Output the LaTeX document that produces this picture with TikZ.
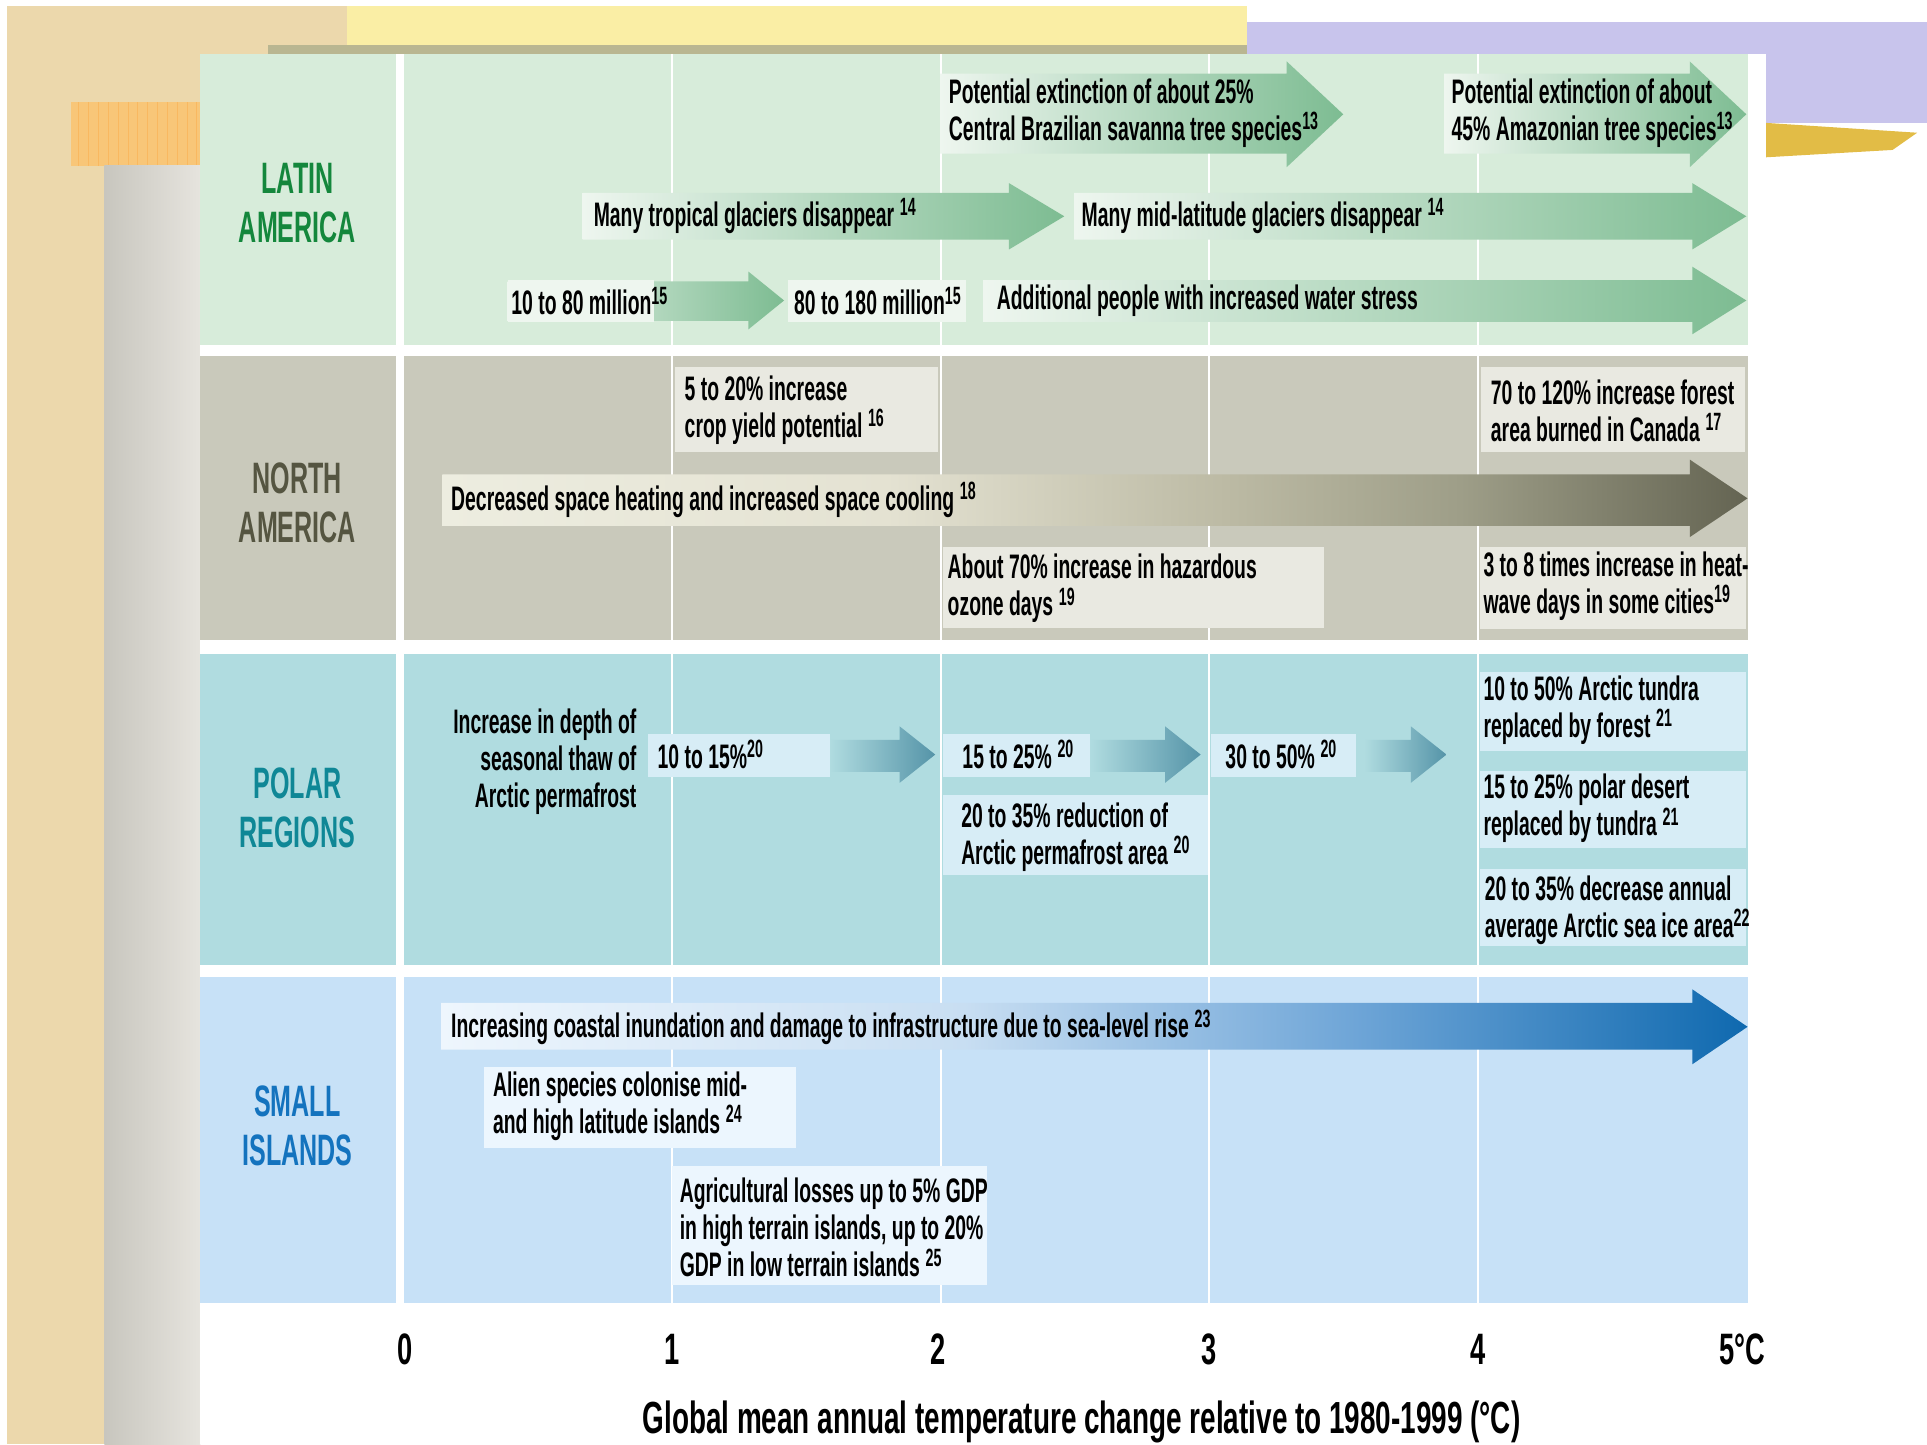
\documentclass[tikz,border=0pt]{standalone}
\usepackage{fontspec}
\setmainfont{Liberation Sans}[FakeStretch=0.57]
\newfontfamily\ttlfont{Liberation Sans}[FakeStretch=0.62]
\definecolor{labg}{RGB}{215,236,218}
\definecolor{nabg}{RGB}{201,201,187}
\definecolor{pobg}{RGB}{176,220,224}
\definecolor{sibg}{RGB}{199,225,247}
\definecolor{latxt}{RGB}{20,135,60}
\definecolor{natxt}{RGB}{85,85,65}
\definecolor{potxt}{RGB}{15,135,150}
\definecolor{sitxt}{RGB}{20,115,190}
\definecolor{lagr}{RGB}{125,188,146}
\definecolor{lalt}{RGB}{238,246,239}
\definecolor{nabox}{RGB}{233,233,225}
\definecolor{pobox}{RGB}{215,237,246}
\definecolor{poar}{RGB}{85,148,168}
\definecolor{sibox}{RGB}{236,246,254}
\definecolor{beige}{RGB}{236,216,172}
\definecolor{orgrid}{RGB}{248,198,120}
\definecolor{yelband}{RGB}{250,238,165}
\definecolor{lav}{RGB}{200,196,236}
\definecolor{gold}{RGB}{226,188,70}
\definecolor{strip}{RGB}{185,182,145}
\definecolor{naA}{RGB}{237,237,224}
\definecolor{naB}{RGB}{228,226,210}
\definecolor{naC}{RGB}{188,186,164}
\definecolor{naD}{RGB}{158,158,136}
\definecolor{naE}{RGB}{100,100,82}
\definecolor{siA}{RGB}{238,246,253}
\definecolor{siB}{RGB}{200,222,242}
\definecolor{siC}{RGB}{110,165,215}
\definecolor{siD}{RGB}{15,105,175}
\pgfdeclarehorizontalshading{nagrad}{100bp}{color(0bp)=(naA); color(25bp)=(naA); color(42bp)=(naB); color(55bp)=(naC); color(64bp)=(naD); color(75bp)=(naE); color(100bp)=(naE)}
\pgfdeclarehorizontalshading{sigrad}{100bp}{color(0bp)=(siA); color(25bp)=(siA); color(45bp)=(siB); color(60bp)=(siC); color(75bp)=(siD); color(100bp)=(siD)}
\newcommand\bodyfont{\fontsize{34}{37}\selectfont\bfseries}
\newcommand\labfont{\fontsize{44}{49}\selectfont\bfseries}
\newcommand\spr[1]{\raisebox{0.32em}{\fontsize{25}{25}\selectfont #1}}
% arrow: x0, xbase, xtip, ytop, ybot, headtop, headbot, options
\newcommand\arr[8]{\shade[#8] (#1,#4) -- (#2,#4) -- (#2,#6) -- (#3,{(#6+#7)/2}) -- (#2,#7) -- (#2,#5) -- (#1,#5) -- cycle;}
\tikzset{
  txt/.style={font=\bodyfont, inner sep=0pt, align=left, anchor=west, text=black},
  rtxt/.style={font=\bodyfont, inner sep=0pt, align=right, anchor=east, text=black},
  lab/.style={font=\labfont, inner sep=0pt, align=center},
  axl/.style={font=\fontsize{44}{44}\selectfont\bfseries\ttlfont, inner sep=0pt},
}
\begin{document}
\begin{tikzpicture}[x=1.229pt,y=-1.229pt]
\useasboundingbox (0,0) rectangle (1568,1175);
% background decoration
\fill[beige] (6,5) rectangle (85,1175);
\fill[beige] (6,5) rectangle (282,44);
\fill[beige] (6,5) rectangle (163,135);
\fill[yelband] (282,5) rectangle (1015,37);
\fill[strip] (218,37) rectangle (1015,44);
\fill[lav] (1015,18) rectangle (1568,44);
\fill[lav] (1437,18) rectangle (1568,100);
\fill[gold] (1437,100) -- (1560,108) -- (1540,122) -- (1437,128) -- cycle;
\fill[orgrid] (58,83) rectangle (163,135);
\draw[orgrid!80!orange, line width=0.6pt, step=8] (58,83) grid (163,135);
\shade[left color={rgb,255:red,200;green,198;blue,190}, right color={rgb,255:red,230;green,228;blue,222}] (85,135) rectangle (163,1175);
% panel
\fill[white] (163,44) rectangle (1437,1175);
% rows
\fill[labg] (163,44) rectangle (322,281);
\fill[labg] (329,44) rectangle (1422,281);
\fill[nabg] (163,290) rectangle (322,521);
\fill[nabg] (329,290) rectangle (1422,521);
\fill[pobg] (163,532) rectangle (322,785);
\fill[pobg] (329,532) rectangle (1422,785);
\fill[sibg] (163,795) rectangle (322,1060);
\fill[sibg] (329,795) rectangle (1422,1060);
% grid lines
\foreach \gx in {547,766,984,1203} \draw[white, line width=2pt] (\gx,44) -- (\gx,1060);
% Latin America arrows
\arr{765}{1047}{1093}{60}{125}{50}{136}{left color=lalt, right color=lagr}
\arr{1175}{1375}{1421}{60}{125}{50}{136}{left color=lalt, right color=lagr}
\arr{474}{821}{866}{157}{195}{149}{203}{left color=lalt, right color=lagr}
\arr{874}{1377}{1421}{157}{195}{149}{203}{left color=lalt, right color=lagr}
\arr{413}{609}{638}{229}{261}{221}{268}{left color=lalt, right color=lagr}
\arr{800}{1377}{1421}{228}{262}{217}{272}{left color=lalt, right color=lagr}
\fill[lalt] (413,228) rectangle (532,262);
\fill[lalt] (641,228) rectangle (786,262);
% North America
\arr{360}{1375}{1422}{386}{428}{374}{437}{shading=nagrad}
\fill[nabox] (549,299) rectangle (763,368);
\fill[nabox] (1205,299) rectangle (1420,368);
\fill[nabox] (767,445) rectangle (1077,511);
\fill[nabox] (1204,445) rectangle (1421,512);
% Polar
\arr{675}{732}{761}{602}{628}{591}{637}{left color=pobg, right color=poar}
\arr{887}{948}{977}{602}{628}{591}{637}{left color=pobg, right color=poar}
\arr{1110}{1148}{1177}{602}{628}{591}{637}{left color=pobg, right color=poar}
\fill[pobox] (527,597) rectangle (675,632);
\fill[pobox] (767,597) rectangle (887,632);
\fill[pobox] (985,597) rectangle (1103,632);
\fill[pobox] (767,647) rectangle (983,712);
\fill[pobox] (1204,547) rectangle (1421,611);
\fill[pobox] (1204,627) rectangle (1421,690);
\fill[pobox] (1204,707) rectangle (1421,770);
% Small islands
\arr{359}{1377}{1422}{816}{854}{805}{866}{shading=sigrad}
\fill[sibox] (394,868) rectangle (648,934);
\fill[sibox] (547,949) rectangle (803,1046);
% row labels
\node[lab, text=latxt] (lLA) at (242,165) {LATIN\\AMERICA};
\node[lab, text=natxt] (lNA) at (242,409) {NORTH\\AMERICA};
\node[lab, text=potxt] (lPO) at (242,657) {POLAR\\REGIONS};
\node[lab, text=sitxt] (lSI) at (242,916) {SMALL\\ISLANDS};
% Latin America texts
\node[txt] (t1) at (772,92) {Potential extinction of about 25\%\\Central Brazilian savanna tree species\spr{13}};
\node[txt] (t2) at (1181,92) {Potential extinction of about\\45\% Amazonian tree species\spr{13}};
\node[txt] (t3) at (483,176) {Many tropical glaciers disappear\,\spr{14}};
\node[txt] (t4) at (880,176) {Many mid-latitude glaciers disappear\,\spr{14}};
\node[txt] (t5) at (416,245) {10 to 80 million\spr{15}};
\node[txt] (t6) at (646,245) {80 to 180 million\spr{15}};
\node[txt] (t7) at (811,245) {Additional people with increased water stress};
% North America texts
\node[txt] (n1) at (557,334) {5 to 20\% increase\\crop yield potential\,\spr{16}};
\node[txt] (n2) at (1213,334) {70 to 120\% increase forest\\area burned in Canada\,\spr{17}};
\node[txt] (n3) at (367,407) {Decreased space heating and increased space cooling\,\spr{18}};
\node[txt] (n4) at (771,479) {About 70\% increase in hazardous\\ozone days\,\spr{19}};
\node[txt] (n5) at (1207,477) {3 to 8 times increase in heat-\\wave days in some cities\spr{19}};
% Polar texts
\node[rtxt] (p0) at (518,620) {Increase in depth of\\seasonal thaw of\\Arctic permafrost};
\node[txt] (p1) at (535,614) {10 to 15\%\spr{20}};
\node[txt] (p2) at (783,614) {15 to 25\%\,\spr{20}};
\node[txt] (p3) at (997,614) {30 to 50\%\,\spr{20}};
\node[txt] (p4) at (782,681) {20 to 35\% reduction of\\Arctic permafrost area\,\spr{20}};
\node[txt] (p5) at (1207,578) {10 to 50\% Arctic tundra\\replaced by forest\,\spr{21}};
\node[txt] (p6) at (1207,658) {15 to 25\% polar desert\\replaced by tundra\,\spr{21}};
\node[txt] (p7) at (1208,741) {20 to 35\% decrease annual\\average Arctic sea ice area\spr{22}};
% Small islands texts
\node[txt] (s1) at (367,836) {Increasing coastal inundation and damage to infrastructure due to sea-level rise\,\spr{23}};
\node[txt] (s2) at (401,900) {Alien species colonise mid-\\and high latitude islands\,\spr{24}};
\node[txt] (s3) at (553,999) {Agricultural losses up to 5\% GDP\\in high terrain islands, up to 20\%\\GDP in low terrain islands\,\spr{25}};
% axis
\node[axl] (a0) at (330,1098) {0};
\node[axl] (a1) at (547,1098) {1};
\node[axl] (a2) at (763,1098) {2};
\node[axl] (a3) at (984,1098) {3};
\node[axl] (a4) at (1203,1098) {4};
\node[axl] (a5) at (1418,1098) {5°C};
\node[font=\fontsize{45}{45}\selectfont\bfseries\ttlfont, inner sep=0pt] (ttl) at (880,1157) {Global mean annual temperature change relative to 1980-1999 (°C)};
\end{tikzpicture}
\end{document}
